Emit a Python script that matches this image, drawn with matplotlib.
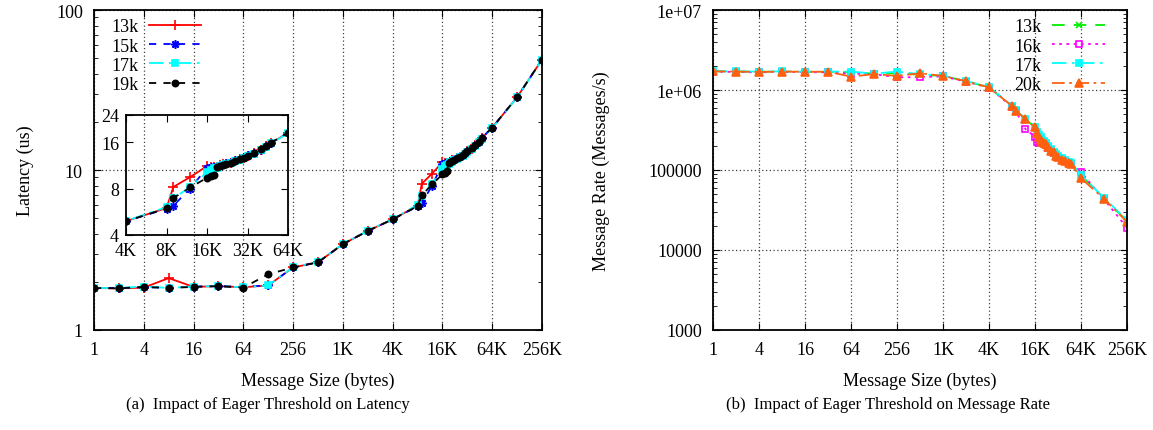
import numpy as np
import matplotlib
matplotlib.use("Agg")
from matplotlib import pyplot as plt
from matplotlib.ticker import FixedLocator, NullFormatter, LogLocator

plt.rcParams["font.family"] = ["Liberation Serif", "DejaVu Serif"]
plt.rcParams["font.size"] = 13

K = 1024
sizes = [1, 2, 4, 8, 16, 32, 64, 128, 256, 512, 1 * K, 2 * K, 4 * K, 8 * K,
         9 * K, 12 * K, 16 * K, 17 * K, 18 * K, 19 * K, 20 * K, 21 * K, 22 * K,
         24 * K, 26 * K, 28 * K, 30 * K, 32 * K, 36 * K, 40 * K, 44 * K, 48 * K,
         64 * K, 128 * K, 256 * K]

# latency (us)
lat_13k = [1.83, 1.82, 1.84, 2.11, 1.86, 1.88, 1.85, 1.90, 2.46, 2.65, 3.44, 4.16, 4.92, 5.98,
           8.2, 9.5, 11.2, 11.0, 11.1, 11.0, 11.3, 11.5, 11.6, 11.8, 12.1, 12.4, 12.7, 13.1,
           13.6, 14.3, 15.0, 15.8, 18.4, 28.5, 49.0]
lat_15k = [1.83, 1.83, 1.85, 1.84, 1.87, 1.88, 1.86, 1.90, 2.46, 2.65, 3.44, 4.16, 4.92, 5.92,
           6.2, 8.0, 10.9, 11.0, 11.1, 11.1, 11.3, 11.5, 11.7, 11.9, 12.2, 12.4, 12.8, 13.2,
           13.7, 14.3, 15.0, 15.9, 18.4, 28.5, 49.0]
lat_17k = [1.83, 1.83, 1.87, 1.83, 1.87, 1.88, 1.85, 1.90, 2.47, 2.66, 3.45, 4.17, 4.93, 6.07,
           6.9, 8.2, 10.2, 10.6, 10.8, 10.9, 11.2, 11.3, 11.5, 11.7, 12.0, 12.3, 12.6, 13.0,
           13.5, 14.2, 14.9, 15.7, 18.3, 28.4, 48.9]
lat_19k = [1.83, 1.82, 1.86, 1.83, 1.86, 1.88, 1.84, 2.23, 2.46, 2.65, 3.44, 4.16, 4.92, 5.95,
           6.95, 8.13, 9.4, 9.6, 9.8, 11.0, 11.2, 11.4, 11.5, 11.8, 12.1, 12.4, 12.7, 13.1,
           13.7, 14.4, 15.0, 15.9, 18.4, 28.5, 49.0]

# message rate (messages/s)
rate_13k = [1.71e6, 1.70e6, 1.69e6, 1.70e6, 1.69e6, 1.69e6, 1.66e6, 1.60e6, 1.62e6, 1.55e6,
            1.50e6, 1.29e6, 1.08e6, 6.3e5, 5.5e5, 4.35e5, 3.4e5, 2.95e5, 2.7e5, 2.5e5, 2.35e5,
            2.25e5, 2.15e5, 1.98e5, 1.8e5, 1.66e5, 1.55e5, 1.47e5, 1.38e5, 1.31e5, 1.26e5,
            1.21e5, 8.6e4, 4.4e4, 2.3e4]
rate_16k = [1.70e6, 1.68e6, 1.66e6, 1.69e6, 1.67e6, 1.66e6, 1.60e6, 1.58e6, 1.44e6, 1.45e6,
            1.48e6, 1.27e6, 1.07e6, 6.2e5, 5.4e5, 3.25e5, 2.6e5, 2.25e5, 2.2e5, 2.3e5, 2.25e5,
            2.15e5, 2.05e5, 1.9e5, 1.75e5, 1.62e5, 1.5e5, 1.44e5, 1.35e5, 1.28e5, 1.23e5,
            1.18e5, 9.4e4, 4.3e4, 1.9e4]
rate_17k = [1.72e6, 1.71e6, 1.70e6, 1.71e6, 1.69e6, 1.70e6, 1.70e6, 1.60e6, 1.70e6, 1.58e6,
            1.51e6, 1.30e6, 1.09e6, 6.4e5, 5.6e5, 4.4e5, 3.45e5, 3.0e5, 2.75e5, 2.55e5, 2.4e5,
            2.3e5, 2.2e5, 2.0e5, 1.82e5, 1.68e5, 1.57e5, 1.5e5, 1.4e5, 1.33e5, 1.27e5,
            1.22e5, 8.6e4, 4.5e4, 2.35e4]
rate_20k = [1.71e6, 1.70e6, 1.68e6, 1.70e6, 1.69e6, 1.69e6, 1.47e6, 1.58e6, 1.50e6, 1.62e6,
            1.50e6, 1.29e6, 1.08e6, 6.3e5, 5.5e5, 4.35e5, 3.42e5, 2.9e5, 2.6e5, 2.35e5, 2.25e5,
            2.2e5, 2.1e5, 1.95e5, 1.75e5, 1.66e5, 1.5e5, 1.45e5, 1.35e5, 1.31e5, 1.22e5,
            1.18e5, 7.9e4, 4.35e4, 2.25e4]

xticks = [1, 4, 16, 64, 256, 1 * K, 4 * K, 16 * K, 64 * K, 256 * K]
xticklabels = ["1", "4", "16", "64", "256", "1K", "4K", "16K", "64K", "256K"]
lat_yticks = [1, 10, 100]
lat_yticklabels = ["1", "10", "100"]
inset_xticks = [4 * K, 8 * K, 16 * K, 32 * K, 64 * K]
inset_xticklabels = ["4K", "8K", "16K", "32K", "64K"]
inset_yticks = [4, 8, 16, 24]
rate_yticks = [1e3, 1e4, 1e5, 1e6, 1e7]
rate_yticklabels = ["1000", "10000", "100000", "1e+06", "1e+07"]

lat_series = [("13k", lat_13k, "#ff0000", "-", "+", True, 7),
              ("15k", lat_15k, "#0000ff", (0, (4, 4)), (8, 2, 0), True, 6),
              ("17k", lat_17k, "#00ffff", (0, (8, 3, 1.5, 3)), "s", True, 5),
              ("19k", lat_19k, "#000000", (0, (4, 4)), "o", True, 4.5)]
rate_series = [("13k", rate_13k, "#00ee00", (0, (7, 5)), "x", True, 5),
               ("16k", rate_16k, "#ff00ff", (0, (1.5, 2.5)), "s", False, 5),
               ("17k", rate_17k, "#00ffff", (0, (8, 3, 1.5, 3)), "s", True, 5),
               ("20k", rate_20k, "#ff6010", (0, (7, 2.5, 1.5, 2.5)), "^", True, 5.5)]


def style_axis(ax):
    ax.tick_params(which="both", direction="in", top=True, right=True)
    ax.tick_params(which="major", length=5, pad=8)
    ax.tick_params(which="minor", length=3)
    for s in ax.spines.values():
        s.set_linewidth(1.3)


def draw(ax, series):
    for label, vals, color, ls, mk, filled, ms in series:
        ax.plot(sizes, vals, color=color, linestyle=ls, linewidth=1.3, marker=mk,
                markersize=ms, markeredgewidth=1.2,
                markerfacecolor=color if filled else "none", label=label)


fig = plt.figure(figsize=(11.53, 4.31), dpi=100)

# ---- (a) latency
ax1 = fig.add_axes([94 / 1153, 100 / 431, 448 / 1153, 320 / 431])
ax1.set_xscale("log", base=2)
ax1.set_yscale("log")
ax1.set_xlim(1, 256 * K)
ax1.set_ylim(1, 100)
ax1.xaxis.set_major_locator(FixedLocator(xticks))
ax1.set_xticklabels(xticklabels)
ax1.xaxis.set_minor_locator(FixedLocator([]))
ax1.yaxis.set_major_locator(FixedLocator(lat_yticks))
ax1.set_yticklabels(lat_yticklabels)
ax1.yaxis.set_minor_locator(LogLocator(base=10, subs=np.arange(2, 10)))
ax1.yaxis.set_minor_formatter(NullFormatter())
ax1.grid(True, which="major", linestyle=(0, (1, 2)), color="0.25", linewidth=0.9)
draw(ax1, lat_series)
style_axis(ax1)
ax1.set_xlabel("Message Size (bytes)")
ax1.set_ylabel("Latency (us)")
ax1.xaxis.set_label_coords(0.5, -0.13)
ax1.yaxis.set_label_coords(-0.135, 0.5)
ax1.legend(loc="upper left", bbox_to_anchor=(0.03, 0.985), frameon=False, markerfirst=False,
           handlelength=2.9, handletextpad=0.6, labelspacing=0.12, borderpad=0.2,
           borderaxespad=0.0)

# inset
axi = fig.add_axes([126 / 1153, (431 - 236) / 431, 162 / 1153, 120 / 431])
axi.patch.set_alpha(0.0)
axi.set_xscale("log", base=2)
axi.set_yscale("log", base=2)
axi.set_xlim(4 * K, 64 * K)
axi.set_ylim(4, 24)
axi.xaxis.set_major_locator(FixedLocator(inset_xticks))
axi.set_xticklabels(inset_xticklabels)
axi.xaxis.set_minor_locator(FixedLocator([]))
axi.yaxis.set_major_locator(FixedLocator(inset_yticks))
axi.set_yticklabels([str(v) for v in inset_yticks])
axi.yaxis.set_minor_locator(FixedLocator([]))
draw(axi, lat_series)
style_axis(axi)
axi.tick_params(which="major", pad=5)

# ---- (b) message rate
ax2 = fig.add_axes([713 / 1153, 100 / 431, 414 / 1153, 320 / 431])
ax2.set_xscale("log", base=2)
ax2.set_yscale("log")
ax2.set_xlim(1, 256 * K)
ax2.set_ylim(1e3, 1e7)
ax2.xaxis.set_major_locator(FixedLocator(xticks))
ax2.set_xticklabels(xticklabels)
ax2.xaxis.set_minor_locator(FixedLocator([]))
ax2.yaxis.set_major_locator(FixedLocator(rate_yticks))
ax2.set_yticklabels(rate_yticklabels)
ax2.yaxis.set_minor_locator(LogLocator(base=10, subs=np.arange(2, 10)))
ax2.yaxis.set_minor_formatter(NullFormatter())
ax2.grid(True, which="major", linestyle=(0, (1, 2)), color="0.25", linewidth=0.9)
draw(ax2, rate_series)
style_axis(ax2)
ax2.set_xlabel("Message Size (bytes)")
ax2.set_ylabel("Message Rate (Messages/s)")
ax2.xaxis.set_label_coords(0.5, -0.13)
ax2.yaxis.set_label_coords(-0.25, 0.5)
ax2.legend(loc="upper right", bbox_to_anchor=(0.955, 0.985), frameon=False, markerfirst=False,
           handlelength=2.9, handletextpad=0.6, labelspacing=0.12, borderpad=0.2,
           borderaxespad=0.0)

fig.text(268 / 1153, 1 - 405 / 431, "(a)  Impact of Eager Threshold on Latency",
         ha="center", va="center", fontsize=12)
fig.text(888 / 1153, 1 - 405 / 431, "(b)  Impact of Eager Threshold on Message Rate",
         ha="center", va="center", fontsize=12)

fig.savefig("out.png", dpi=100)
